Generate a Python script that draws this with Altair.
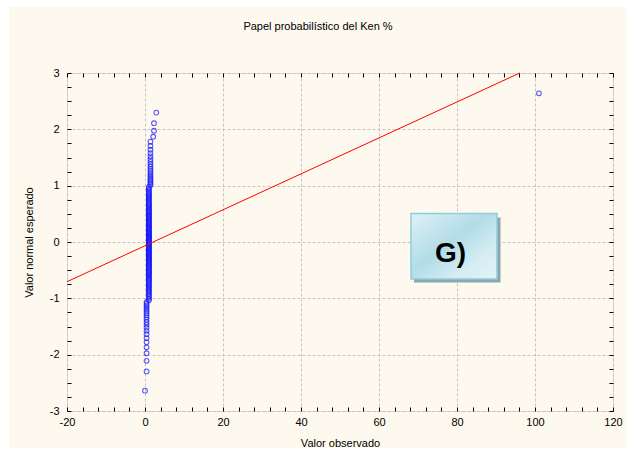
import altair as alt
import pandas as pd

FONT = "Liberation Sans"

title_text = ["Papel probabilístico del Ken %"]
x_title = "Valor observado"
y_title = "Valor normal esperado"
panel_label = ["G)"]

ken_values = [0.0, 0.4, 1.0, 1.4, 2.1, 2.3, 2.9, 101.0]
ken_counts = [1, 21, 104, 19, 1, 2, 1, 1]

# reference line end points
line_x = [-20.0, 96.1]
line_y = [-0.705, 3.0]

x_domain = [-20, 120]
y_domain = [-3, 3]
x_ticks = [-20, -16, -12, -8, -4, 0, 4, 8, 12, 16, 20, 24, 28, 32, 36, 40, 44, 48,
           52, 56, 60, 64, 68, 72, 76, 80, 84, 88, 92, 96, 100, 104, 108, 112, 116, 120]
y_ticks = [-3, -2.75, -2.5, -2.25, -2, -1.75, -1.5, -1.25, -1, -0.75, -0.5, -0.25, 0,
           0.25, 0.5, 0.75, 1, 1.25, 1.5, 1.75, 2, 2.25, 2.5, 2.75, 3]

W, H = 546, 338

xscale = alt.Scale(domain=x_domain, nice=False, zero=False)
yscale = alt.Scale(domain=y_domain, nice=False, zero=False)

common = dict(
    offset=-4, tickSize=4, tickColor="black", tickWidth=1, domain=False,
    labelFont=FONT, labelFontSize=11, labelColor="black", labelFlush=False,
    labelOverlap=False, titleFont=FONT, titleFontSize=11, titleFontWeight="normal",
    titleColor="black",
)

ax_bottom = alt.Axis(
    orient="bottom", values=x_ticks, title=x_title, titlePadding=10,
    labelExpr="datum.value % 20 === 0 ? toString(datum.value) : ''", labelPadding=5,
    grid=True, gridColor="#C4C4C4", gridDash=[3, 2], gridWidth=1,
    gridOpacity={"condition": {"test": "datum.value % 20 === 0", "value": 1}, "value": 0},
    **common,
)
ax_left = alt.Axis(
    orient="left", values=y_ticks, title=y_title, titlePadding=15,
    labelExpr="datum.value % 1 === 0 ? toString(datum.value) : ''", labelPadding=8,
    grid=True, gridColor="#C4C4C4", gridDash=[3, 2], gridWidth=1,
    gridOpacity={"condition": {"test": "datum.value % 1 === 0", "value": 1}, "value": 0},
    **common,
)
ax_top = alt.Axis(orient="top", values=x_ticks, title=None, labels=False, grid=False, **common)
ax_right = alt.Axis(orient="right", values=y_ticks, title=None, labels=False, grid=False, **common)

obs = pd.DataFrame({"ken": [v for v, c in zip(ken_values, ken_counts) for _ in range(c)]})

points = (
    alt.Chart(obs)
    .transform_window(window=[alt.WindowFieldDef(op="row_number", **{"as": "rank"})],
                      sort=[alt.SortField("ken", order="ascending")])
    .transform_joinaggregate(n="count()")
    .transform_calculate(z="quantileNormal((datum.rank - 0.375) / (datum.n + 0.25))")
    .mark_point(shape="circle", filled=False, color="#1414FF", size=22, strokeWidth=1.1)
    .encode(x=alt.X("ken:Q", scale=xscale, axis=ax_bottom),
            y=alt.Y("z:Q", scale=yscale, axis=ax_left))
)

line = (
    alt.Chart(pd.DataFrame({"x": line_x, "y": line_y}))
    .mark_line(color="#FF0000", strokeWidth=1)
    .encode(x=alt.X("x:Q", scale=xscale, axis=ax_top),
            y=alt.Y("y:Q", scale=yscale, axis=ax_right))
)

one = pd.DataFrame({"label": panel_label})

ring = alt.Chart(one).mark_rect(filled=False, stroke="white", strokeWidth=16).encode(
    x=alt.value(-66), x2=alt.value(568), y=alt.value(-74), y2=alt.value(383)
)

title = alt.Chart(pd.DataFrame({"t": title_text})).mark_text(
    font=FONT, fontSize=11, color="black", align="center", baseline="middle"
).encode(text="t:N", x=alt.value(251), y=alt.value(-46))

shadow = alt.Chart(one).mark_rect(color="#8BA7AF").encode(
    x=alt.value(347), x2=alt.value(433.5), y=alt.value(144.5), y2=alt.value(209.5)
)

grad = alt.LinearGradient(
    gradient="linear",
    stops=[alt.GradientStop(color="#DFF1F6", offset=0),
           alt.GradientStop(color="#B2DCE7", offset=0.45),
           alt.GradientStop(color="#D3ECF2", offset=0.72),
           alt.GradientStop(color="#E4F3F7", offset=1)],
    x1=0, y1=0, x2=1, y2=1,
)
box = alt.Chart(one).mark_rect(fill=grad, stroke="#90CCDA", strokeWidth=1.5).encode(
    x=alt.value(344), x2=alt.value(430), y=alt.value(140.5), y2=alt.value(206)
)

label = alt.Chart(one).mark_text(
    font=FONT, fontSize=28, fontWeight="bold", color="black", align="center", baseline="alphabetic"
).encode(text="label:N", x=alt.value(383.5), y=alt.value(188.5))

chart = (
    alt.layer(ring, title, points, line, shadow, box, label)
    .resolve_axis(x="independent", y="independent")
    .properties(
        width=W, height=H,
        padding={"left": 67, "top": 73, "right": 23, "bottom": 44},
        autosize=alt.AutoSizeParams(type="none"),
        background="#FDF9EF",
    )
    .configure_view(fill="white", stroke="black", strokeWidth=1)
    .configure(font=FONT)
)

chart.save("out.html", embed_options={"renderer": "svg", "actions": False})
